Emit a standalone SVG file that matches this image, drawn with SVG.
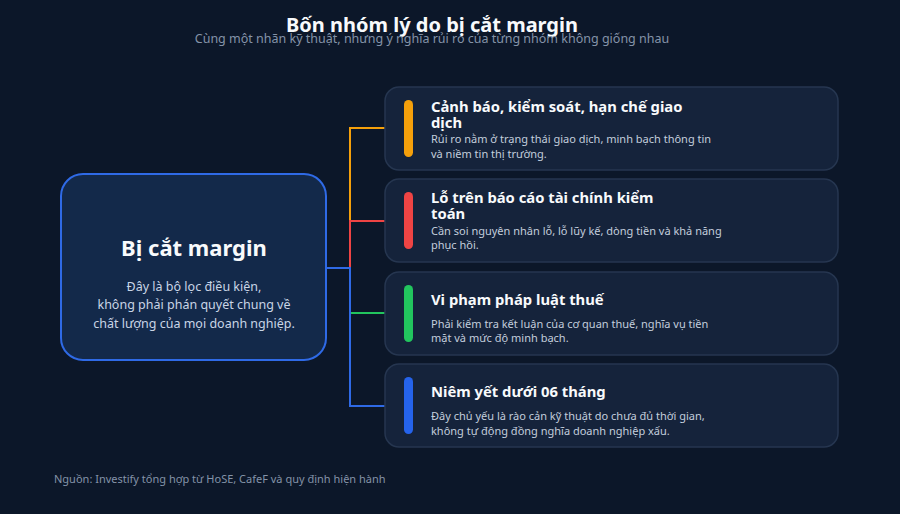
<svg xmlns="http://www.w3.org/2000/svg" width="900" height="514" viewBox="0 0 900 514">
<style>
text{font-family:"Noto Sans","Open Sans","DejaVu Sans",sans-serif}
.title{font-size:20px;font-weight:700;fill:#f8fafc}
.sub{font-size:12.5px;fill:#8493a8}
.card{fill:#15233b;stroke:#263650;stroke-width:1.5}
.ct{font-size:14.8px;font-weight:700;fill:#f8fafc}
.cd{font-size:11px;fill:#c3cedd}
.conn{fill:none;stroke-width:2}
.foot{font-size:11px;fill:#8493a8}
</style>
<rect width="900" height="514" fill="#0c1729"/>
<text class="title" x="432" y="32" text-anchor="middle">Bốn nhóm lý do bị cắt margin</text>
<text class="sub" x="432" y="43" text-anchor="middle">Cùng một nhãn kỹ thuật, nhưng ý nghĩa rủi ro của từng nhóm không giống nhau</text>

<g id="connectors">
<path class="conn" stroke="#f5a00b" d="M315 268H350V128H397"/>
<path class="conn" stroke="#ef4444" d="M315 268H350V221H397"/>
<path class="conn" stroke="#22c55e" d="M315 268H350V313H397"/>
<path class="conn" stroke="#2f6ae6" d="M315 268H350V406H397"/>
</g>

<g id="root">
<rect x="61" y="174" width="265" height="186" rx="22" fill="#13294a" stroke="#2f6ae6" stroke-width="2"/>
<text x="194" y="256" text-anchor="middle" style="font-size:22px;font-weight:700;fill:#f8fafc">Bị cắt margin</text>
<text x="194" y="291" text-anchor="middle" style="font-size:12.5px;fill:#c9d5e6">Đây là bộ lọc điều kiện,</text>
<text x="194" y="309" text-anchor="middle" style="font-size:12.5px;fill:#c9d5e6">không phải phán quyết chung về</text>
<text x="194" y="328" text-anchor="middle" style="font-size:12.5px;fill:#c9d5e6">chất lượng của mọi doanh nghiệp.</text>
</g>

<g id="card1">
<rect class="card" x="385" y="87" width="453" height="83" rx="14"/>
<rect x="404" y="100" width="9" height="57" rx="4.5" fill="#f5a00b"/>
<text class="ct" x="431" y="112">Cảnh báo, kiểm soát, hạn chế giao</text>
<text class="ct" x="431" y="128">dịch</text>
<text class="cd" x="431" y="143">Rủi ro nằm ở trạng thái giao dịch, minh bạch thông tin</text>
<text class="cd" x="431" y="158">và niềm tin thị trường.</text>
</g>

<g id="card2">
<rect class="card" x="385" y="179" width="453" height="83" rx="14"/>
<rect x="404" y="192" width="9" height="57" rx="4.5" fill="#ef4444"/>
<text class="ct" x="431" y="203">Lỗ trên báo cáo tài chính kiểm</text>
<text class="ct" x="431" y="219">toán</text>
<text class="cd" x="431" y="235">Cần soi nguyên nhân lỗ, lỗ lũy kế, dòng tiền và khả năng</text>
<text class="cd" x="431" y="249">phục hồi.</text>
</g>

<g id="card3">
<rect class="card" x="385" y="272" width="453" height="83" rx="14"/>
<rect x="404" y="285" width="9" height="57" rx="4.5" fill="#22c55e"/>
<text class="ct" x="431" y="305">Vi phạm pháp luật thuế</text>
<text class="cd" x="431" y="328">Phải kiểm tra kết luận của cơ quan thuế, nghĩa vụ tiền</text>
<text class="cd" x="431" y="342">mặt và mức độ minh bạch.</text>
</g>

<g id="card4">
<rect class="card" x="385" y="364" width="453" height="83" rx="14"/>
<rect x="404" y="377" width="9" height="57" rx="4.5" fill="#2563eb"/>
<text class="ct" x="431" y="397">Niêm yết dưới 06 tháng</text>
<text class="cd" x="431" y="420">Đây chủ yếu là rào cản kỹ thuật do chưa đủ thời gian,</text>
<text class="cd" x="431" y="435">không tự động đồng nghĩa doanh nghiệp xấu.</text>
</g>

<text class="foot" x="54" y="483">Nguồn: Investify tổng hợp từ HoSE, CafeF và quy định hiện hành</text>
</svg>
